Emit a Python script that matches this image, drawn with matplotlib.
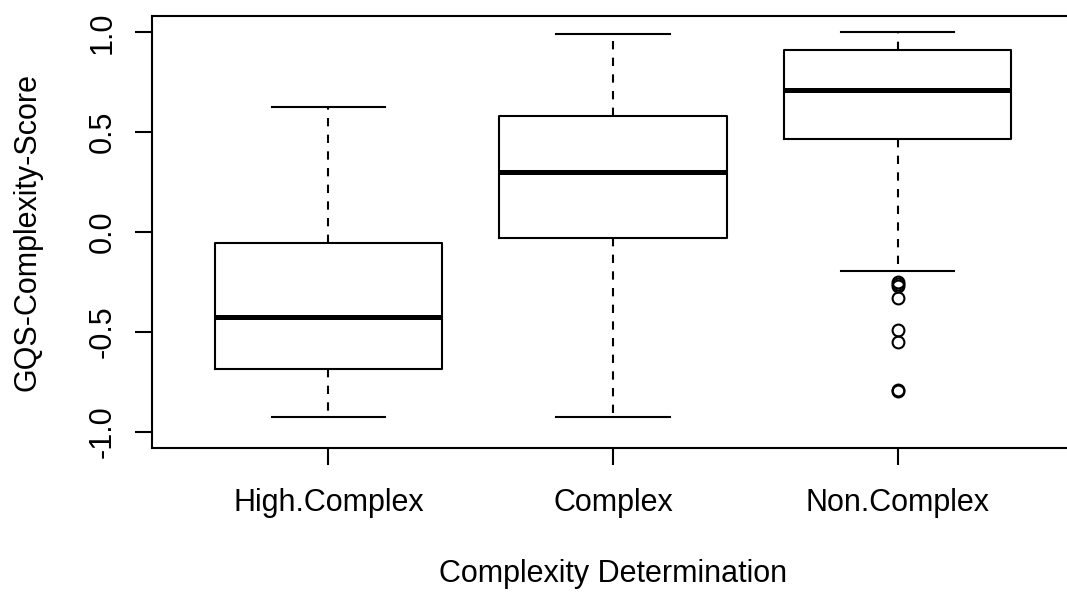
import matplotlib
matplotlib.use("Agg")
import matplotlib.pyplot as plt

plt.rcParams['font.family'] = ['Liberation Sans', 'DejaVu Sans']

# five-number summaries per complexity group
groups = ["High.Complex", "Complex", "Non.Complex"]
whisker_low = [-0.925, -0.925, -0.194]
q1 = [-0.686, -0.03, 0.464]
medians = [-0.426, 0.30, 0.711]
q3 = [-0.055, 0.58, 0.913]
whisker_high = [0.626, 0.99, 1.0]
outliers = [[], [], [-0.25, -0.26, -0.27, -0.33, -0.49, -0.55, -0.79, -0.795]]

stats = []
for i, name in enumerate(groups):
    stats.append(dict(label=name, whislo=whisker_low[i], q1=q1[i], med=medians[i],
                      q3=q3[i], whishi=whisker_high[i], fliers=outliers[i]))

fig = plt.figure(figsize=(10.67, 5.93), dpi=100)
ax = fig.add_axes([152 / 1067, 1 - 447.5 / 593, (1074 - 152) / 1067, (447.5 - 16) / 593])

lw = 1.5
ax.bxp(stats, positions=[1, 2, 3], widths=0.8, showfliers=True,
       boxprops=dict(color='black', linewidth=lw),
       medianprops=dict(color='black', linewidth=3.6, solid_capstyle='butt'),
       whiskerprops=dict(color='black', linewidth=lw, linestyle=(0, (4, 4))),
       capprops=dict(color='black', linewidth=lw),
       capwidths=0.4,
       flierprops=dict(marker='o', markerfacecolor='none', markeredgecolor='black',
                       markersize=8.5, markeredgewidth=lw))

ax.set_xlim(0.38, 3.62)
ax.set_ylim(-1.078, 1.082)
ax.set_yticks([-1.0, -0.5, 0.0, 0.5, 1.0])
ax.set_yticklabels(["-1.0", "-0.5", "0.0", "0.5", "1.0"], rotation=90, va='center')
ax.set_xticks([1, 2, 3])
ax.set_xticklabels(groups)

fs = 22
for s in ax.spines.values():
    s.set_linewidth(lw)
ax.tick_params(axis='both', length=12.5, width=lw, labelsize=fs, color='black')
ax.tick_params(axis='x', pad=17)
ax.tick_params(axis='y', pad=12)

ax.set_xlabel("Complexity Determination", fontsize=fs)
ax.set_ylabel("GQS-Complexity-Score", fontsize=fs)
ax.xaxis.set_label_coords(0.5, -(574 - 447.5) / (447.5 - 16), transform=ax.transAxes)
ax.yaxis.set_label_coords(-(152 - 27) / (1074 - 152), 0.5, transform=ax.transAxes)
ax.xaxis.label.set_va('center')
ax.yaxis.label.set_va('center')

fig.savefig("out.png", dpi=100)
